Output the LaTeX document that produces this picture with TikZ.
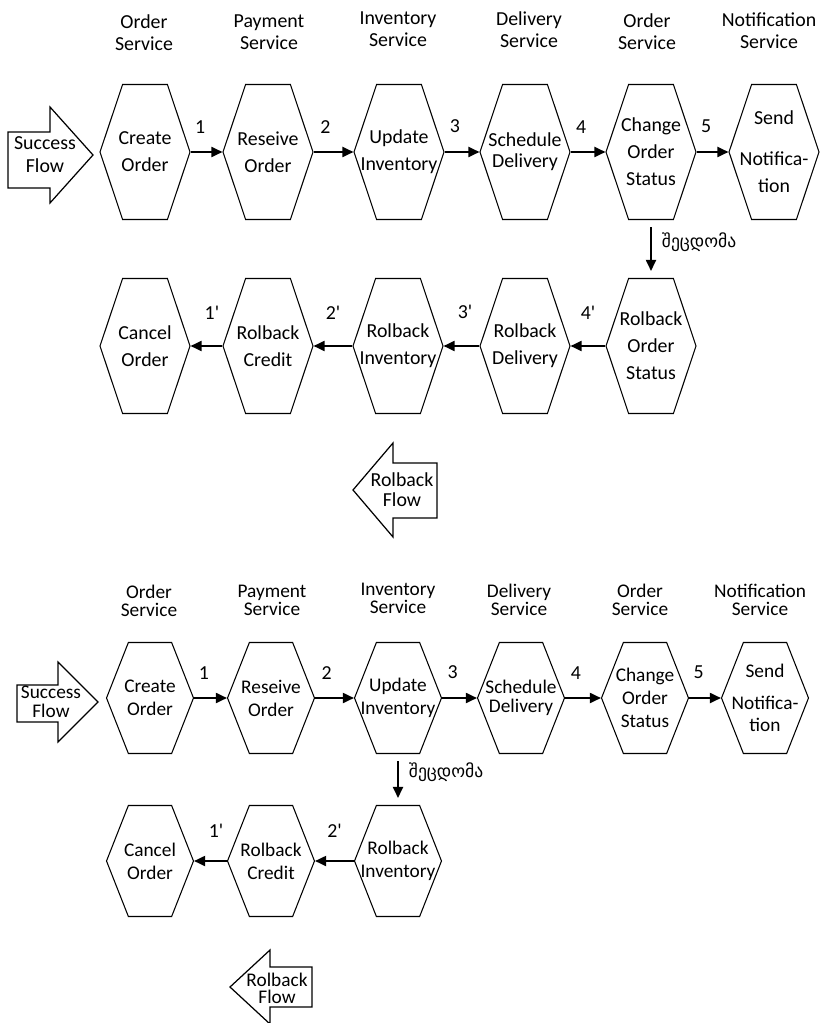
\documentclass[tikz,border=0pt]{standalone}
\usepackage{fontspec}
\setmainfont{Carlito}
\newfontfamily\geofont{DejaVu Sans}
\usetikzlibrary{shapes.symbols, arrows.meta, positioning}

\begin{document}
\begin{tikzpicture}[
    x=0.02cm, y=-0.02cm,
    font=\fontsize{11.3}{12.5}\selectfont,
    header/.style={align=center, inner sep=0pt},
    headerb/.style={align=center, inner sep=0pt, font=\fontsize{11}{10.4}\selectfont},
    hexa/.style={signal, signal to=east and west, signal pointer angle=143, draw, line width=0.6pt, minimum width=1.8cm, minimum height=2.7cm, inner sep=0pt},
    hexb/.style={hexa, signal pointer angle=137, minimum width=1.74cm, minimum height=2.22cm},
    hextext/.style={align=center, inner sep=0pt, font=\fontsize{11.3}{15.4}\selectfont},
    hextextb/.style={align=center, inner sep=0pt, font=\fontsize{11}{13}\selectfont},
    arrow/.style={-{Triangle[length=0.22cm, width=0.2cm]}, line width=1.05pt},
    num/.style={inner sep=0pt, above=0.36cm},
    numback/.style={inner sep=0pt, above=0.52cm},
    numbackb/.style={inner sep=0pt, above=0.46cm},
    err/.style={inner sep=0pt, right=0.2cm, font=\geofont\fontsize{10}{12}\selectfont},
    bigarrow/.style={draw, line width=0.7pt, line join=miter},
    flow/.style={align=center, inner sep=0pt}
]
    \useasboundingbox (0,0) rectangle (823,1023);

    % success flow, five steps
    \node[header] (h1) at (144,33) {Order\\Service};
    \node[header] (h2) at (269,32) {Payment\\Service};
    \node[header] (h3) at (398,29) {Inventory\\Service};
    \node[header] (h4) at (529,30) {Delivery\\Service};
    \node[header] (h5) at (647,32) {Order\\Service};
    \node[header] (h6) at (769,31) {Notification\\Service};

    \draw[bigarrow] (8,132) -- (50,132) -- (50,107) -- (93,155) -- (50,203) -- (50,188) -- (8,188) -- cycle;
    \node[flow, font=\fontsize{11.3}{13}\selectfont] (success) at (45,155) {Success\\Flow};

    \node[hexa, label={[hextext]center:Create\\Order}] (create) at (145,152) {};
    \node[hexa, label={[hextext]center:Reseive\\Order}] (receive) at (268,152) {};
    \node[hexa, label={[hextext]center:Update\\Inventory}] (update) at (399,152) {};
    \node[hexa, label={[hextext, font=\fontsize{11.3}{12}\selectfont]center:Schedule\\Delivery}] (schedule) at (525,152) {};
    \node[hexa, label={[hextext]center:Change\\Order\\Status}] (change) at (651,152) {};
    \node[hexa, label={[hextext]center:Send\\[8pt]Notifica-\\tion}] (send) at (774,152) {};

    \draw[arrow] (create) -- node[num, pos=0.3] {1} (receive);
    \draw[arrow] (receive) -- node[num, pos=0.3] {2} (update);
    \draw[arrow] (update) -- node[num, pos=0.3] {3} (schedule);
    \draw[arrow] (schedule) -- node[num, pos=0.3] {4} (change);
    \draw[arrow] (change) -- node[num, pos=0.3] {5} (send);

    % rollback after step 5
    \node[hexa, label={[hextext]center:Cancel\\Order}] (cancel) at (145,346) {};
    \node[hexa, label={[hextext]center:Rolback\\Credit}] (rbcredit) at (268,346) {};
    \node[hexa, label={[hextext]center:Rolback\\Inventory}] (rbinventory) at (398,346) {};
    \node[hexa, label={[hextext]center:Rolback\\Delivery}] (rbdelivery) at (525,346) {};
    \node[hexa, label={[hextext]center:Rolback\\Order\\Status}] (rbstatus) at (651,346) {};

    \draw[arrow, shorten <=0.14cm, shorten >=0.14cm] (change) -- node[err, pos=0.38] {შეცდომა} (rbstatus);

    \draw[arrow] (rbcredit) -- node[numback, pos=0.33] {1\textquotesingle} (cancel);
    \draw[arrow] (rbinventory) -- node[numback, pos=0.5] {2\textquotesingle} (rbcredit);
    \draw[arrow] (rbdelivery) -- node[numback, pos=0.4] {3\textquotesingle} (rbinventory);
    \draw[arrow] (rbstatus) -- node[numback, pos=0.5] {4\textquotesingle} (rbdelivery);

    \draw[bigarrow] (437,463) -- (393,463) -- (393,443) -- (353,490) -- (393,537) -- (393,518) -- (437,518) -- cycle;
    \node[flow, font=\fontsize{11.3}{11.4}\selectfont] (rollback) at (402,490) {Rolback\\Flow};

    % success flow again, failing at step 2
    \node[headerb] (g1) at (149,601) {Order\\Service};
    \node[headerb] (g2) at (272,600) {Payment\\Service};
    \node[headerb] (g3) at (398,598) {Inventory\\Service};
    \node[headerb] (g4) at (519,600) {Delivery\\Service};
    \node[headerb] (g5) at (640,600) {Order\\Service};
    \node[headerb] (g6) at (760,600) {Notification\\Service};

    \draw[bigarrow] (17,685) -- (58,685) -- (58,662) -- (98,702) -- (58,742) -- (58,722) -- (17,722) -- cycle;
    \node[flow, font=\fontsize{11}{10.8}\selectfont] (success2) at (51,702) {Success\\Flow};

    \node[hexb, label={[hextextb]center:Create\\Order}] (create2) at (150,698) {};
    \node[hexb, label={[hextextb]center:Reseive\\Order}] (receive2) at (271,698) {};
    \node[hexb, label={[hextextb]center:Update\\Inventory}] (update2) at (398,698) {};
    \node[hexb, label={[hextextb, font=\fontsize{11}{11}\selectfont]center:Schedule\\Delivery}] (schedule2) at (521,698) {};
    \node[hexb, label={[hextextb]center:Change\\Order\\Status}] (change2) at (645,698) {};
    \node[hexb, label={[hextextb]center:Send\\[5pt]Notifica-\\tion}] (send2) at (765,698) {};

    \draw[arrow] (create2) -- node[num, pos=0.3] {1} (receive2);
    \draw[arrow] (receive2) -- node[num, pos=0.3] {2} (update2);
    \draw[arrow] (update2) -- node[num, pos=0.3] {3} (schedule2);
    \draw[arrow] (schedule2) -- node[num, pos=0.3] {4} (change2);
    \draw[arrow] (change2) -- node[num, pos=0.3] {5} (send2);

    % rollback after step 2
    \node[hexb, label={[hextextb]center:Cancel\\Order}] (cancel2) at (150,861) {};
    \node[hexb, label={[hextextb]center:Rolback\\Credit}] (rbcredit2) at (271,861) {};
    \node[hexb, label={[hextextb]center:Rolback\\Inventory}] (rbinventory2) at (398,861) {};

    \draw[arrow, shorten <=0.14cm, shorten >=0.14cm] (update2) -- node[err, pos=0.35] {შეცდომა} (rbinventory2);

    \draw[arrow] (rbcredit2) -- node[numbackb, pos=0.33] {1\textquotesingle} (cancel2);
    \draw[arrow] (rbinventory2) -- node[numbackb, pos=0.5] {2\textquotesingle} (rbcredit2);

    \draw[bigarrow] (312,967) -- (270,967) -- (270,950) -- (230,987) -- (270,1024) -- (270,1007) -- (312,1007) -- cycle;
    \node[flow, font=\fontsize{11}{9.7}\selectfont] (rollback2) at (277,988) {Rolback\\Flow};
\end{tikzpicture}
\end{document}
